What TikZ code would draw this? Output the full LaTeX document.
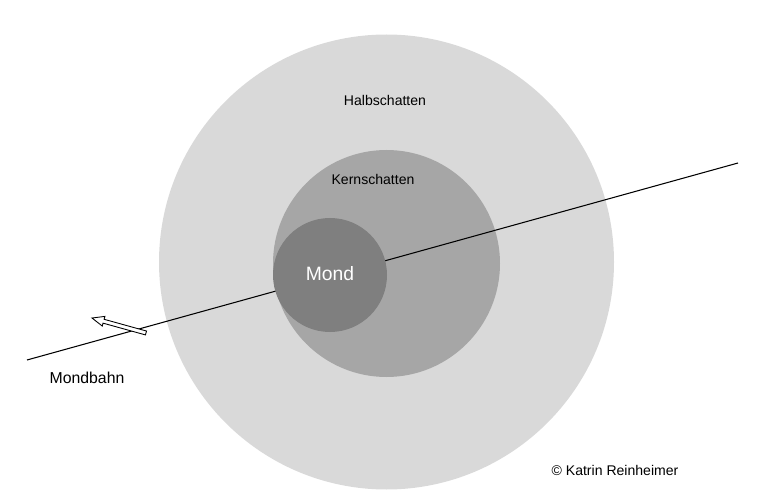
\documentclass[tikz,border=0pt]{standalone}
\usepackage{fontspec}
\setmainfont{Liberation Sans}
\definecolor{halb}{HTML}{D9D9D9}
\definecolor{kern}{HTML}{A6A6A6}
\definecolor{mond}{HTML}{7F7F7F}
\tikzset{label text/.style={font=\fontsize{8}{9}\selectfont}}
\begin{document}
\begin{tikzpicture}[x=0.02cm,y=-0.02cm]
\useasboundingbox (0,0) rectangle (764,503);

% shadows
    \fill[halb] (386.5,262) circle (227.5);
    \fill[kern] (386.5,263.5) circle (113.5);

% orbit
    \coordinate (bahnA) at (27,360);
    \coordinate (bahnB) at (738,163);
    \draw[line width=0.6pt] (bahnA) -- (bahnB);

% moon
    \fill[mond] (330,275) circle (57);

% direction arrow
\begin{scope}[shift={(119,325.5)}, rotate=-15.5]
    \draw[fill=white, line width=0.5pt] (28,-2) -- (-16,-2) -- (-16,-5) -- (-28,0)
        -- (-16,5) -- (-16,2) -- (28,2) -- cycle;
\end{scope}

% labels
    \node[label text] (halbschatten) at (385,100) {Halbschatten};
    \node[label text] (kernschatten) at (373,179) {Kernschatten};
    \node[white, font=\fontsize{11}{13}\selectfont] (mondtext) at (330,274) {Mond};
    \node[font=\fontsize{9}{11}\selectfont] (mondbahn) at (87,378) {Mondbahn};
    \node[label text] (copy) at (615,470) {© Katrin Reinheimer};

\end{tikzpicture}
\end{document}
